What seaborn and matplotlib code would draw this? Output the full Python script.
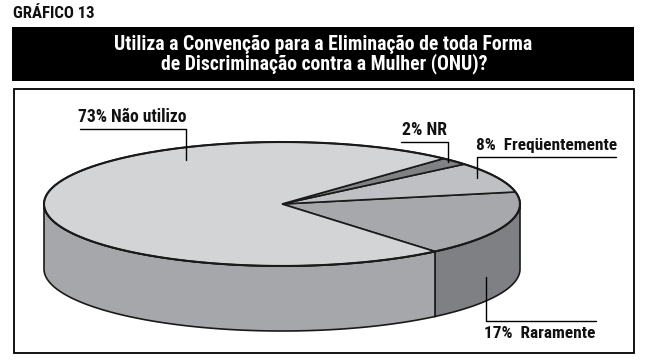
import numpy as np
import matplotlib
matplotlib.use("Agg")
import matplotlib.pyplot as plt
from matplotlib.patches import Polygon, Rectangle
from matplotlib import font_manager as fm
import seaborn as sns

# ---- data (counter-clockwise order, starting at the front-right) ----
categories = ["Raramente", "Freqüentemente", "NR", "Não utilizo"]
values = [17, 8, 2, 73]
top_colors = ["#a7a8ab", "#bfc0c3", "#808184", "#d3d4d6"]
side_colors = ["#7f8083", "#98999c", "#66676a", "#a6a7aa"]
header = "GRÁFICO 13"
title_lines = ["Utiliza a Convenção para a Eliminação de toda Forma",
               "de Discriminação contra a Mulher (ONU)?"]

sns.set_theme(style="white")

# pick a condensed family if one is installed
chosen = ('DejaVu Sans', 'normal')
for fam, stretch in [('Liberation Sans Narrow', 'normal'), ('Roboto Condensed', 'normal'),
                     ('DejaVu Sans', 'condensed'), ('Open Sans Condensed', 'normal')]:
    try:
        f = fm.findfont(fm.FontProperties(family=fam, stretch=stretch, weight='bold'),
                        fallback_to_default=False)
        if stretch == 'condensed' and 'ondensed' not in f:
            continue
        chosen = (fam, stretch)
        break
    except Exception:
        pass
FAM, STRETCH = chosen
plt.rcParams['font.family'] = [FAM, 'DejaVu Sans']

fig = plt.figure(figsize=(6.5, 3.61), dpi=100)
ax = fig.add_axes([0, 0, 1, 1])
ax.set_xlim(0, 650)
ax.set_ylim(361, 0)
ax.axis('off')
renderer = fig.canvas.get_renderer()


def fit_text(x, y, s, target_w, base_size, max_size, ha='left', color='#111111'):
    t = ax.text(x, y, s, fontsize=base_size, fontweight='bold', color=color,
                ha=ha, va='baseline', fontstretch=STRETCH)
    w = t.get_window_extent(renderer).width
    t.set_fontsize(min(max_size, base_size * target_w / w))
    return t


# header and title box
fit_text(13, 18.5, header, 82, 11, 12.5)
ax.add_patch(Rectangle((12, 27), 622, 54, facecolor='black', edgecolor='none'))
fit_text(323, 50, title_lines[0], 420, 14, 14.5, ha='center', color='white')
fit_text(324, 69.5, title_lines[1], 328, 14, 14.5, ha='center', color='white')
# panel
ax.add_patch(Rectangle((13.5, 88.5), 620, 264, facecolor='white',
                       edgecolor='black', lw=1.3))

# ---- 3D pie ----
cx, cy, rx, ry, depth = 282, 204, 238, 62, 65
start = -50.0


def arc(a, b, dz=0.0, n=200):
    t = np.radians(np.linspace(a, b, n))
    return np.column_stack([cx + rx * np.cos(t), cy - ry * np.sin(t) + dz])


fracs = np.array(values, dtype=float) / sum(values)
bounds = start + np.concatenate([[0], np.cumsum(fracs) * 360])

# sides (front half only: angles in [180, 360] mod 360)
for i in range(len(values)):
    a, b = bounds[i], bounds[i + 1]
    for k in (-1, 0, 1):
        lo, hi = 180 + 360 * k, 360 + 360 * k
        s, e = max(a, lo), min(b, hi)
        if e > s:
            top = arc(s, e)
            bot = arc(e, s, depth)
            ax.add_patch(Polygon(np.vstack([top, bot]), closed=True,
                                 facecolor=side_colors[i], edgecolor='#1a1a1a',
                                 lw=1.2, joinstyle='miter'))

# top wedges
for i in range(len(values)):
    a, b = bounds[i], bounds[i + 1]
    pts = np.vstack([[cx, cy], arc(a, b)])
    ax.add_patch(Polygon(pts, closed=True, facecolor=top_colors[i],
                         edgecolor='#1a1a1a', lw=1.2, joinstyle='miter'))
rim = arc(0, 360, n=400)
ax.plot(rim[:, 0], rim[:, 1], color='#1a1a1a', lw=1.5)

# ---- labels with leader lines (layout) ----
label_layout = {
    "Não utilizo": dict(text=(78, 122.5), w=109, sep=" ",
                        line=[(80, 129), (186, 129), (186, 160)]),
    "NR": dict(text=(401.5, 135), w=45, sep=" ",
               line=[(401, 141.5), (447.5, 141.5), (447.5, 162)]),
    "Freqüentemente": dict(text=(476.5, 150), w=140, sep="  ",
                           line=[(616, 156.5), (477, 156.5), (477, 178)]),
    "Raramente": dict(text=(484, 338.5), w=111, sep="  ",
                      line=[(486, 277), (486, 321), (596, 321)]),
}
for cat, val in zip(categories, values):
    lay = label_layout[cat]
    xs, ys = zip(*lay["line"])
    ax.plot(xs, ys, color='black', lw=1.0)
    fit_text(lay["text"][0], lay["text"][1], f"{val}%{lay['sep']}{cat}", lay["w"], 12, 13)

fig.savefig("out.png", dpi=100)
